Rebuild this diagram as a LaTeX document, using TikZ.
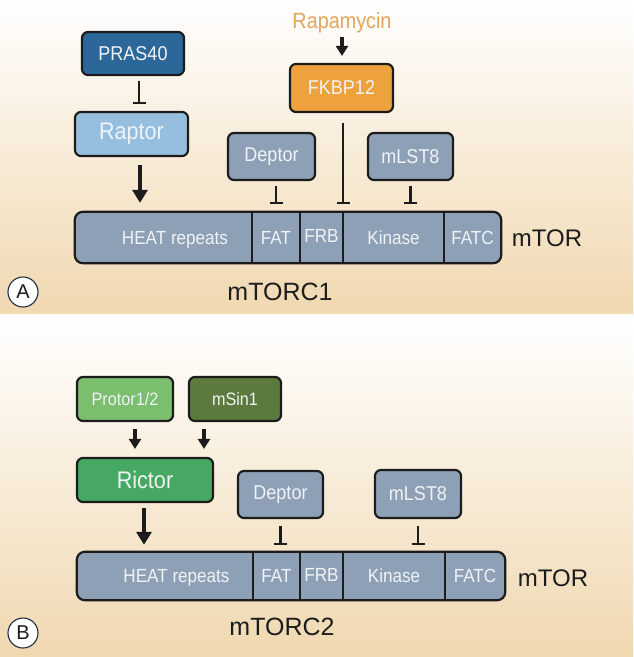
\documentclass[tikz,border=0pt]{standalone}
\usepackage{fontspec}
\setmainfont{Liberation Sans}
\newfontfamily\nf[FakeStretch=0.9]{Liberation Sans}
\usetikzlibrary{arrows.meta,backgrounds}
\definecolor{tanbg}{RGB}{240,216,176}
\definecolor{outl}{RGB}{28,28,28}
\definecolor{greyblue}{RGB}{141,160,182}
\definecolor{prascol}{RGB}{43,104,153}
\definecolor{raptorcol}{RGB}{150,190,222}
\definecolor{fkbpcol}{RGB}{237,162,62}
\definecolor{rapacol}{RGB}{228,165,90}
\definecolor{protorcol}{RGB}{122,190,110}
\definecolor{msincol}{RGB}{92,122,62}
\definecolor{rictorcol}{RGB}{70,168,98}
\definecolor{boxtext}{RGB}{240,243,246}
\definecolor{circol}{RGB}{30,45,65}
\begin{document}
\begin{tikzpicture}[x=1pt,y=-1pt,
  box/.style={draw=outl, line width=2.2pt, rounded corners=6pt, inner sep=0pt, text=boxtext},
  seg/.style={inner sep=0pt, text=boxtext, text height=13.6pt, text depth=0pt, font=\nf\fontsize{19}{22}\selectfont},
  barline/.style={draw=outl, line width=2.2pt},
  inh/.style={draw=outl, line width=2.2pt, -{Bar[width=13pt,line width=2.2pt]}},
  act/.style={draw=outl, line width=4pt, -{Triangle[width=15pt,length=13pt]}},
  sact/.style={draw=outl, line width=3.2pt, -{Triangle[width=12pt,length=10pt]}},
  lbl/.style={inner sep=0pt, text=outl, anchor=base},
  panel/.style={circle, draw=circol, line width=1.1pt, fill=white, minimum size=30pt, inner sep=0pt, text=outl, font=\fontsize{20}{24}\selectfont}
]
\useasboundingbox (0,0) rectangle (633,657);
% ---------- Panel A ----------
\node[box, fill=prascol, minimum width=102pt, minimum height=43pt, font=\nf\fontsize{20}{24}\selectfont] (pras) at (133,53.5) {PRAS40};
\node[box, fill=raptorcol, minimum width=113pt, minimum height=44pt, font=\nf\fontsize{24}{28}\selectfont] (raptor) at (131.5,134) {Raptor};
\node[inner sep=0pt, text=rapacol, font=\nf\fontsize{22}{26}\selectfont] (rapa) at (342,22.5) {Rapamycin};
\node[box, fill=fkbpcol, minimum width=103pt, minimum height=48pt, font=\nf\fontsize{20}{24}\selectfont] (fkbp) at (341.5,88) {FKBP12};
\node[box, fill=greyblue, minimum width=87pt, minimum height=47pt, font=\nf\fontsize{20}{24}\selectfont] (deptorA) at (271.5,156.5) {Deptor};
\node[box, fill=greyblue, minimum width=85pt, minimum height=47pt, font=\nf\fontsize{20}{24}\selectfont] (mlstA) at (410.5,156.5) {mLST8};
% mTOR bar A
\node[seg, minimum width=177pt, minimum height=51pt] (heatA) at (163.5,237.5) {\hspace{23pt}HEAT repeats};
\node[seg, minimum width=48pt, minimum height=51pt] (fatA) at (276,237.5) {FAT};
\node[seg, minimum width=43pt, minimum height=51pt] (frbA) at (321.5,236) {FRB};
\node[seg, minimum width=101pt, minimum height=51pt] (kinA) at (393.5,237.5) {Kinase};
\node[seg, minimum width=57pt, minimum height=51pt] (fatcA) at (472.5,237.5) {FATC};
\begin{scope}[on background layer]
  \shade[top color=white, bottom color=tanbg] (0,0) rectangle (633,313);
  \shade[top color=white, bottom color=tanbg] (0,320) rectangle (633,657);
  \path[fill=greyblue, draw=outl, line width=2.2pt, rounded corners=8pt] (heatA.north west) rectangle (fatcA.south east);
\end{scope}
\draw[barline] (fatA.north west) -- (fatA.south west);
\draw[barline] (fatA.north east) -- (fatA.south east);
\draw[barline] (kinA.north west) -- (kinA.south west);
\draw[barline] (kinA.north east) -- (kinA.south east);
\node[lbl, font=\fontsize{24}{28}\selectfont] (mtorA) at (547,246.5) {mTOR};
\node[lbl, font=\fontsize{25}{30}\selectfont] (mtorc1) at (280,300) {mTORC1};
\node[panel] (pA) at (23,292) {A};
% connectors A
\draw[inh, shorten <=5pt, shorten >=7pt] ([xshift=6pt]pras.south) -- ([xshift=6pt]pras.south |- raptor.north);
\draw[act, shorten <=8pt, shorten >=9pt] ([xshift=8.5pt]raptor.south) -- ([xshift=8.5pt]raptor.south |- heatA.north);
\draw[sact, shorten <=4pt, shorten >=7pt] (rapa.south) -- (rapa.south |- fkbp.north);
\draw[inh, shorten <=10pt, shorten >=8pt] ([xshift=1.5pt]fkbp.south) -- ([xshift=1.5pt]fkbp.south |- kinA.north);
\draw[inh, shorten <=5pt, shorten >=8pt] ([xshift=4.5pt]deptorA.south) -- ([xshift=4.5pt]deptorA.south |- fatA.north);
\draw[inh, shorten <=5pt, shorten >=8pt] (mlstA.south) -- (mlstA.south |- kinA.north);
% ---------- Panel B ----------
\node[box, fill=protorcol, minimum width=96pt, minimum height=44pt, font=\nf\fontsize{18}{22}\selectfont] (protor) at (125,399) {Protor1/2};
\node[box, fill=msincol, minimum width=92pt, minimum height=44pt, font=\nf\fontsize{18}{22}\selectfont] (msin) at (235,399) {mSin1};
\node[box, fill=rictorcol, minimum width=136pt, minimum height=44pt, font=\nf\fontsize{24}{28}\selectfont] (rictor) at (145,480) {Rictor};
\node[box, fill=greyblue, minimum width=85pt, minimum height=47pt, font=\nf\fontsize{20}{24}\selectfont] (deptorB) at (280.5,494.5) {Deptor};
\node[box, fill=greyblue, minimum width=86pt, minimum height=48pt, font=\nf\fontsize{20}{24}\selectfont] (mlstB) at (418,494) {mLST8};
\node[seg, minimum width=176pt, minimum height=48pt] (heatB) at (165,576) {\hspace{23pt}HEAT repeats};
\node[seg, minimum width=47pt, minimum height=48pt] (fatB) at (276.5,576) {FAT};
\node[seg, minimum width=43pt, minimum height=48pt] (frbB) at (321.5,574.5) {FRB};
\node[seg, minimum width=102pt, minimum height=48pt] (kinB) at (394,576) {Kinase};
\node[seg, minimum width=60pt, minimum height=48pt] (fatcB) at (475,576) {FATC};
\begin{scope}[on background layer]
  \path[fill=greyblue, draw=outl, line width=2.2pt, rounded corners=8pt] (heatB.north west) rectangle (fatcB.south east);
\end{scope}
\draw[barline] (fatB.north west) -- (fatB.south west);
\draw[barline] (fatB.north east) -- (fatB.south east);
\draw[barline] (kinB.north west) -- (kinB.south west);
\draw[barline] (kinB.north east) -- (kinB.south east);
\node[lbl, font=\fontsize{24}{28}\selectfont] (mtorB) at (553,586.5) {mTOR};
\node[lbl, font=\fontsize{25}{30}\selectfont] (mtorc2) at (282,635) {mTORC2};
\node[panel] (pB) at (23,633) {B};
% connectors B
\draw[sact, shorten <=7pt, shorten >=8pt] ([xshift=10pt]protor.south) -- ([xshift=10pt]protor.south |- rictor.north);
\draw[sact, shorten <=7pt, shorten >=8pt] ([xshift=-31pt]msin.south) -- ([xshift=-31pt]msin.south |- rictor.north);
\draw[act, shorten <=5pt, shorten >=7pt] ([xshift=-1pt]rictor.south) -- ([xshift=-1pt]rictor.south |- heatB.north);
\draw[inh, shorten <=7pt, shorten >=7pt] (deptorB.south) -- (deptorB.south |- fatB.north);
\draw[inh, shorten <=7pt, shorten >=7pt] (mlstB.south) -- (mlstB.south |- kinB.north);
\end{tikzpicture}
\end{document}
